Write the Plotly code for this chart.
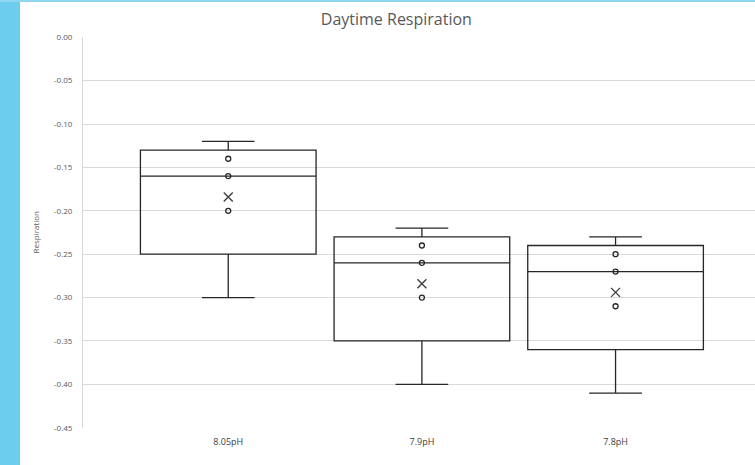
import numpy as np
import plotly.graph_objects as go

categories = ["8.05pH", "7.9pH", "7.8pH"]
values_805 = [-0.12, -0.14, -0.16, -0.20, -0.30]
values_79 = [-0.22, -0.24, -0.26, -0.30, -0.40]
values_78 = [-0.23, -0.25, -0.27, -0.31, -0.41]
series = [values_805, values_79, values_78]
y_ticks = [0.0, -0.05, -0.10, -0.15, -0.20, -0.25, -0.30, -0.35, -0.40, -0.45]
y_tick_labels = ["0.00", "-0.05", "-0.10", "-0.15", "-0.20", "-0.25", "-0.30", "-0.35", "-0.40", "-0.45"]

fig = go.Figure()
for cat, vals in zip(categories, series):
    fig.add_trace(go.Box(
        x=[cat] * len(vals), y=vals, name=cat,
        quartilemethod="exclusive", boxpoints=False,
        fillcolor="rgba(255,255,255,0)",
        line=dict(color="#262626", width=1.3),
        width=0.907, whiskerwidth=0.3, showlegend=False,
        hoverinfo="skip",
    ))
    s = sorted(vals)
    inner = s[1:-1]
    fig.add_trace(go.Scatter(
        x=[cat] * len(inner), y=inner, mode="markers",
        marker=dict(symbol="circle-open", size=5, color="#262626", line=dict(width=1.3)),
        showlegend=False, hoverinfo="skip",
    ))
    fig.add_trace(go.Scatter(
        x=[cat], y=[float(np.mean(vals))], mode="markers",
        marker=dict(symbol="x-thin-open", size=9, color="#404040", line=dict(width=1.4, color="#404040")),
        showlegend=False, hoverinfo="skip",
    ))

fig.update_layout(
    width=755, height=465,
    margin=dict(l=83, r=0, t=37, b=37, autoexpand=False),
    paper_bgcolor="white", plot_bgcolor="white",
    title=dict(text="Daytime Respiration", x=0.525, xanchor="center", y=0.958, yanchor="middle",
               font=dict(family="Open Sans, Liberation Sans, sans-serif", size=16, color="#595959")),
    font=dict(family="Open Sans, Liberation Sans, sans-serif"),
)
fig.update_xaxes(
    type="category", categoryorder="array", categoryarray=categories,
    range=[-0.75, 2.72], showgrid=False, zeroline=False, showline=False, automargin=False,
    ticks="", tickfont=dict(size=9, color="#404040"), ticklabelstandoff=7,
)
fig.update_yaxes(
    range=[-0.4503, 0.0003], tickvals=y_ticks, ticktext=y_tick_labels, automargin=False,
    showgrid=True, gridcolor="#d9d9d9", gridwidth=1, zeroline=False,
    showline=True, linecolor="#d9d9d9", linewidth=1,
    ticks="", tickfont=dict(size=8, color="#595959"), ticklabelstandoff=8,
)
fig.add_annotation(
    text="Respiration", xref="paper", yref="paper",
    x=(35 - 83) / 672, y=0.5, textangle=-90, showarrow=False,
    font=dict(size=8, color="#595959"), xanchor="center", yanchor="middle",
)
# light blue frame on the left and top edge
fig.add_shape(type="rect", xref="paper", yref="paper",
              x0=-83 / 672, x1=(20 - 83) / 672, y0=-37 / 391, y1=1 + 37 / 391,
              fillcolor="#6ccdee", line=dict(width=0), layer="above")
fig.add_shape(type="line", xref="paper", yref="paper",
              x0=-83 / 672, x1=1, y0=1 + 36 / 391, y1=1 + 36 / 391,
              line=dict(color="#8fd6ef", width=2), layer="above")

fig.write_html("out.html", config={"displayModeBar": False},
               post_script="document.body.style.margin='0';document.body.style.overflow='hidden';")
